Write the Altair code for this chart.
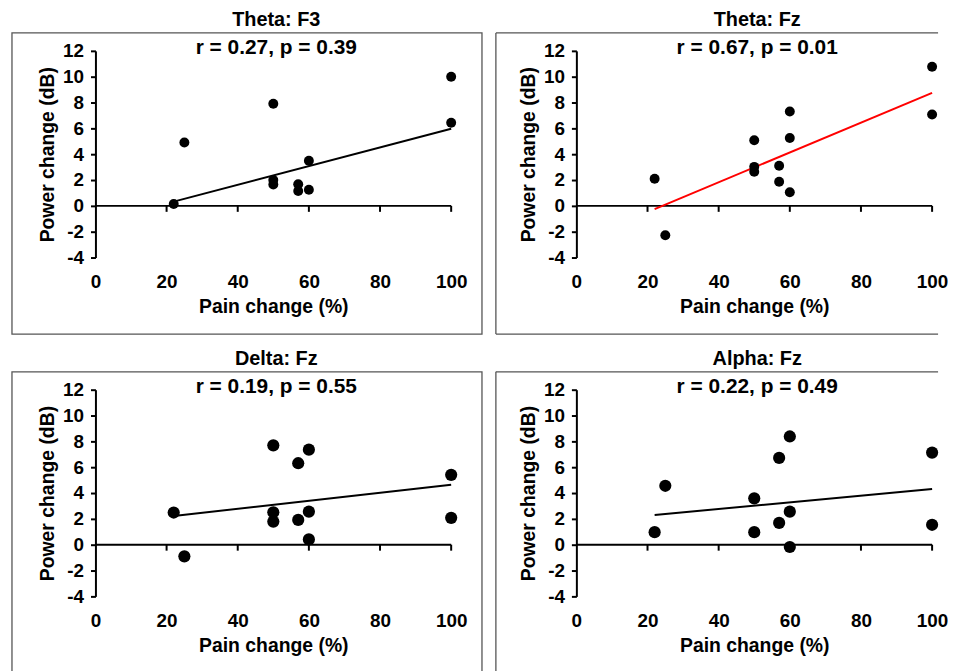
import altair as alt
import pandas as pd

# ---- axis ticks ----
x_ticks = [0, 20, 40, 60, 80, 100]
y_ticks = [-4, -2, 0, 2, 4, 6, 8, 10, 12]

# ---- panel texts ----
panel_titles = ["Theta: F3", "Theta: Fz", "Delta: Fz", "Alpha: Fz"]
panel_stats = ["r = 0.27, p = 0.39", "r = 0.67, p = 0.01",
               "r = 0.19, p = 0.55", "r = 0.22, p = 0.49"]

# ---- data (pain change %, power change dB) ----
theta_f3_pain = [22, 25, 50, 50, 50, 57, 57, 60, 60, 100, 100]
theta_f3_power = [0.15, 4.9, 7.9, 2.0, 1.65, 1.67, 1.15, 3.5, 1.25, 10.0, 6.44]

theta_fz_pain = [22, 25, 50, 50, 50, 57, 57, 60, 60, 60, 100, 100]
theta_fz_power = [2.1, -2.28, 5.08, 3.02, 2.64, 3.1, 1.87, 7.3, 5.25, 1.05, 10.77, 7.08]

delta_fz_pain = [22, 25, 50, 50, 50, 57, 57, 60, 60, 60, 100, 100]
delta_fz_power = [2.49, -0.9, 7.69, 2.51, 1.79, 6.31, 1.92, 7.36, 2.56, 0.41, 5.41, 2.08]

alpha_fz_pain = [22, 25, 50, 50, 57, 57, 60, 60, 60, 100, 100]
alpha_fz_power = [0.97, 4.56, 3.59, 0.97, 6.72, 1.69, 8.38, 2.56, -0.18, 7.13, 1.54]

# ---- fitted line end points ----
fit_pain = [22, 100]
theta_f3_fit = [0.33, 5.97]
theta_fz_fit = [-0.25, 8.75]
delta_fz_fit = [2.22, 4.65]
alpha_fz_fit = [2.3, 4.32]

line_colors = ["black", "red", "black", "black"]
point_sizes = [100, 100, 150, 150]

W, H = 358, 208
FONT = "Liberation Sans"
BOX = "#555555"

X_AXIS = alt.Axis(values=x_ticks, domain=False, ticks=False, tickSize=0,
                  grid=False, labelPadding=15, labelFlush=False,
                  labelOverlap=False, title="Pain change (%)", titlePadding=6)
Y_AXIS = alt.Axis(values=y_ticks, tickCount=9, domain=True,
                  domainColor="black", domainWidth=2, ticks=True,
                  tickColor="black", tickWidth=2, tickSize=5,
                  labelPadding=7, grid=False, labelFlush=False,
                  labelOverlap=False, labelExpr="'' + datum.value",
                  title="Power change (dB)", titlePadding=5)
XS = alt.Scale(domain=[0, 100], nice=False, zero=False)
YS = alt.Scale(domain=[-4, 12], nice=False, zero=False)


def panel(i, pain, power, fit, right_side):
    pts = pd.DataFrame({"pain": pain, "power": power})
    fit_df = pd.DataFrame({"pain": fit_pain, "power": fit})
    tick_df = pd.DataFrame({"pain": x_ticks[1:], "power": [0] * (len(x_ticks) - 1)})
    zero_df = pd.DataFrame({"pain": [x_ticks[0]], "pain2": [x_ticks[-1]], "power": [0]})
    one = pd.DataFrame({"t": [panel_titles[i]], "s": [panel_stats[i]]})

    xenc = alt.X("pain:Q", scale=XS, axis=X_AXIS)
    yenc = alt.Y("power:Q", scale=YS, axis=Y_AXIS)

    if not right_side:
        box = alt.Chart(one).mark_rect(
            filled=False, stroke=BOX, strokeWidth=1.3
        ).encode(x=alt.value(-84), x2=alt.value(W + 31),
                 y=alt.value(-18), y2=alt.value(H + 77))
        boxes = [box]
    else:
        L, R, T, B = -81, W + 6, -18, H + 77
        left = alt.Chart(one).mark_rule(stroke=BOX, strokeWidth=1.3).encode(
            x=alt.value(L), y=alt.value(T), y2=alt.value(B))
        top = alt.Chart(one).mark_rule(stroke=BOX, strokeWidth=1.3).encode(
            x=alt.value(L), x2=alt.value(R), y=alt.value(T))
        bot = alt.Chart(one).mark_rule(stroke=BOX, strokeWidth=1.3).encode(
            x=alt.value(L), x2=alt.value(R), y=alt.value(B))
        boxes = [left, top, bot]

    title = alt.Chart(one).mark_text(
        font=FONT, fontSize=20, fontWeight="bold", color="black", baseline="middle"
    ).encode(x=alt.value(W / 2 + 3), y=alt.value(-31), text="t:N")

    stats = alt.Chart(one).mark_text(
        font=FONT, fontSize=21, fontWeight="bold", color="black", baseline="middle"
    ).encode(x=alt.value(W / 2 + 3), y=alt.value(-3), text="s:N")

    zero_line = alt.Chart(zero_df).mark_rule(color="black", strokeWidth=2).encode(
        x=xenc, x2="pain2:Q", y=yenc)

    xticks = alt.Chart(tick_df).mark_rule(
        color="black", strokeWidth=2, y2Offset=6
    ).encode(x=xenc, y=yenc, y2="power:Q")

    line = alt.Chart(fit_df).mark_line(color=line_colors[i], strokeWidth=2).encode(
        x=xenc, y=yenc)

    points = alt.Chart(pts).mark_circle(
        color="black", opacity=1, size=point_sizes[i]
    ).encode(x=xenc, y=yenc)

    return alt.layer(*boxes, zero_line, xticks, line, points, title, stats).properties(
        width=W, height=H)


p1 = panel(0, theta_f3_pain, theta_f3_power, theta_f3_fit, False)
p2 = panel(1, theta_fz_pain, theta_fz_power, theta_fz_fit, True)
p3 = panel(2, delta_fz_pain, delta_fz_power, delta_fz_fit, False)
p4 = panel(3, alpha_fz_pain, alpha_fz_power, alpha_fz_fit, True)

chart = alt.vconcat(
    alt.hconcat(p1, p2, spacing=12),
    alt.hconcat(p3, p4, spacing=12),
    spacing=14,
).properties(
    padding={"left": 3, "top": 0, "right": 0, "bottom": 0},
    background="white",
).configure_view(stroke=None).configure_axis(
    labelFont=FONT, titleFont=FONT, labelFontSize=19, titleFontSize=19.5,
    labelFontWeight="bold", titleFontWeight="bold",
    labelColor="black", titleColor="black"
)

chart.save("out.html", embed_options={"renderer": "svg", "actions": False})
